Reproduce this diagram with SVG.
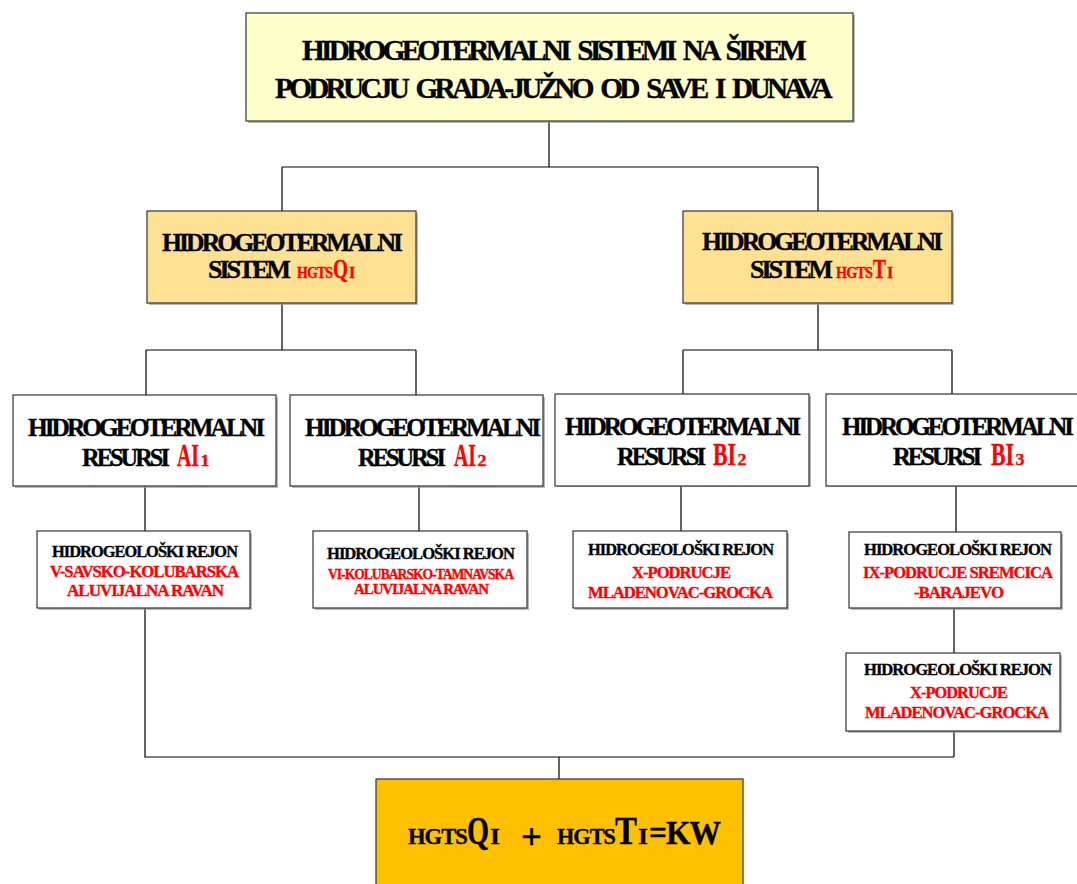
<svg xmlns="http://www.w3.org/2000/svg" width="1077" height="884" viewBox="0 0 1077 884">
<style>
.t{font-family:"Liberation Serif","Times New Roman","DejaVu Serif",serif;font-weight:bold;stroke-width:0.35;}
.k{fill:#000;stroke:#000}
.r{fill:#ff0000;stroke:#ff0000}
.l1{letter-spacing:-1px}
.l3{letter-spacing:-3px}
.lt{letter-spacing:-3.8px;word-spacing:6px}
.box{stroke:#333;stroke-width:1.2}
.sh{fill:#9a9a9a;opacity:0.7}
.w{fill:#fff}
.c{stroke:#000;stroke-width:1.2;fill:none}
</style>
<rect width="1077" height="884" fill="#fff"/>
<g id="connectors">
<path class="c" d="M549 121V167M282 167H818M282 167V212M818 167V212"/>
<path class="c" d="M282 303V350M146 350H416M146 350V395M416 350V395"/>
<path class="c" d="M818 303V350M683 350H952M683 350V395M952 350V395"/>
<path class="c" d="M145 486V531M419 486V531M681 486V531M956 486V532M954 608V653"/>
<path class="c" d="M145 608V757H954M954 731V757M559 757V779"/>
</g>
<g id="top">
<rect class="sh" x="248" y="15" width="607" height="108"/>
<rect class="box" x="246" y="13" width="607" height="108" fill="#ffffcc"/>
<text class="t k lt" font-size="30" x="302" y="60" textLength="501" lengthAdjust="spacingAndGlyphs">HIDROGEOTERMALNI SISTEMI NA ŠIREM</text>
<text class="t k lt" font-size="30" x="275" y="98" textLength="554" lengthAdjust="spacingAndGlyphs">PODRUCJU GRADA-JUŽNO OD SAVE I DUNAVA</text>
</g>
<g id="sistemQ">
<rect class="sh" x="149" y="213" width="269" height="92"/>
<rect class="box" x="147" y="211" width="269" height="92" fill="#ffe194"/>
<text class="t k l3" font-size="26" x="162" y="251" textLength="238" lengthAdjust="spacingAndGlyphs">HIDROGEOTERMALNI</text>
<text class="t k l3" font-size="26" x="208" y="278" textLength="80" lengthAdjust="spacingAndGlyphs">SISTEM</text>
<text class="t r l1" font-size="16" x="297" y="278" textLength="35" lengthAdjust="spacingAndGlyphs">HGTS</text>
<text class="t r" font-size="28" x="333" y="278" textLength="15" lengthAdjust="spacingAndGlyphs">Q</text>
<text class="t r" font-size="16" x="349" y="278">I</text>
</g>
<g id="sistemT">
<rect class="sh" x="685" y="213" width="269" height="92"/>
<rect class="box" x="683" y="211" width="269" height="92" fill="#ffe194"/>
<text class="t k l3" font-size="26" x="702" y="250" textLength="238" lengthAdjust="spacingAndGlyphs">HIDROGEOTERMALNI</text>
<text class="t k l3" font-size="26" x="750" y="278" textLength="80" lengthAdjust="spacingAndGlyphs">SISTEM</text>
<text class="t r l1" font-size="16" x="836" y="278" textLength="36" lengthAdjust="spacingAndGlyphs">HGTS</text>
<text class="t r" font-size="28" x="873" y="278" textLength="13" lengthAdjust="spacingAndGlyphs">T</text>
<text class="t r" font-size="16" x="887" y="278">I</text>
</g>
<g id="resursiAI1">
<rect class="sh" x="15" y="397" width="263" height="91"/>
<rect class="box w" x="13" y="395" width="263" height="91"/>
<text class="t k l3" font-size="25" x="28" y="436" textLength="234" lengthAdjust="spacingAndGlyphs">HIDROGEOTERMALNI</text>
<text class="t k l3" font-size="25" x="82" y="466" textLength="85" lengthAdjust="spacingAndGlyphs">RESURSI</text>
<text class="t r" font-size="31" x="177" y="466" textLength="22" lengthAdjust="spacingAndGlyphs">AI</text>
<text class="t r" font-size="17" x="200.5" y="466" textLength="9" lengthAdjust="spacingAndGlyphs">1</text>
</g>
<g id="resursiAI2">
<rect class="sh" x="292" y="397" width="253" height="91"/>
<rect class="box w" x="290" y="395" width="253" height="91"/>
<text class="t k l3" font-size="25" x="305" y="436" textLength="233" lengthAdjust="spacingAndGlyphs">HIDROGEOTERMALNI</text>
<text class="t k l3" font-size="25" x="358" y="466" textLength="85" lengthAdjust="spacingAndGlyphs">RESURSI</text>
<text class="t r" font-size="31" x="454" y="466" textLength="22" lengthAdjust="spacingAndGlyphs">AI</text>
<text class="t r" font-size="17" x="477.5" y="466" textLength="9" lengthAdjust="spacingAndGlyphs">2</text>
</g>
<g id="resursiBI2">
<rect class="sh" x="557" y="396" width="254" height="91"/>
<rect class="box w" x="555" y="394" width="254" height="92"/>
<text class="t k l3" font-size="25" x="565" y="435" textLength="233" lengthAdjust="spacingAndGlyphs">HIDROGEOTERMALNI</text>
<text class="t k l3" font-size="25" x="617" y="465" textLength="86" lengthAdjust="spacingAndGlyphs">RESURSI</text>
<text class="t r" font-size="31" x="713" y="465" textLength="23" lengthAdjust="spacingAndGlyphs">BI</text>
<text class="t r" font-size="17" x="737.5" y="465" textLength="9" lengthAdjust="spacingAndGlyphs">2</text>
</g>
<g id="resursiBI3">
<rect class="sh" x="828" y="396" width="260" height="91"/>
<rect class="box w" x="826" y="394" width="260" height="92"/>
<text class="t k l3" font-size="25" x="842" y="435" textLength="229" lengthAdjust="spacingAndGlyphs">HIDROGEOTERMALNI</text>
<text class="t k l3" font-size="25" x="893" y="465" textLength="86" lengthAdjust="spacingAndGlyphs">RESURSI</text>
<text class="t r" font-size="31" x="991" y="465" textLength="23" lengthAdjust="spacingAndGlyphs">BI</text>
<text class="t r" font-size="17" x="1015.5" y="465" textLength="9" lengthAdjust="spacingAndGlyphs">3</text>
</g>
<g id="rejonV">
<rect class="sh" x="39" y="533" width="213" height="77"/>
<rect class="box w" x="37" y="531" width="213" height="77"/>
<text class="t k l1" font-size="17" x="52" y="557" textLength="185" lengthAdjust="spacingAndGlyphs">HIDROGEOLOŠKI REJON</text>
<text class="t r l1" font-size="17" x="50" y="577" textLength="188" lengthAdjust="spacingAndGlyphs">V-SAVSKO-KOLUBARSKA</text>
<text class="t r l1" font-size="17" x="67" y="596" textLength="156" lengthAdjust="spacingAndGlyphs">ALUVIJALNA RAVAN</text>
</g>
<g id="rejonVI">
<rect class="sh" x="315" y="533" width="214" height="77"/>
<rect class="box w" x="313" y="531" width="214" height="77"/>
<text class="t k l1" font-size="17" x="327" y="559" textLength="187" lengthAdjust="spacingAndGlyphs">HIDROGEOLOŠKI REJON</text>
<text class="t r l1" font-size="14" x="328" y="579" textLength="185" lengthAdjust="spacingAndGlyphs">VI-KOLUBARSKO-TAMNAVSKA</text>
<text class="t r l1" font-size="14" x="354" y="594" textLength="134" lengthAdjust="spacingAndGlyphs">ALUVIJALNA RAVAN</text>
</g>
<g id="rejonX1">
<rect class="sh" x="575" y="533" width="214" height="77"/>
<rect class="box w" x="573" y="531" width="214" height="77"/>
<text class="t k l1" font-size="17" x="588" y="555" textLength="185" lengthAdjust="spacingAndGlyphs">HIDROGEOLOŠKI REJON</text>
<text class="t r l1" font-size="17" x="632" y="578" textLength="98" lengthAdjust="spacingAndGlyphs">X-PODRUCJE</text>
<text class="t r l1" font-size="17" x="588" y="598" textLength="184" lengthAdjust="spacingAndGlyphs">MLADENOVAC-GROCKA</text>
</g>
<g id="rejonIX">
<rect class="sh" x="851" y="534" width="212" height="76"/>
<rect class="box w" x="849" y="532" width="212" height="76"/>
<text class="t k l1" font-size="17" x="864" y="555" textLength="187" lengthAdjust="spacingAndGlyphs">HIDROGEOLOŠKI REJON</text>
<text class="t r l1" font-size="17" x="863" y="578" textLength="189" lengthAdjust="spacingAndGlyphs">IX-PODRUCJE SREMCICA</text>
<text class="t r l1" font-size="17" x="914" y="598" textLength="89" lengthAdjust="spacingAndGlyphs">-BARAJEVO</text>
</g>
<g id="rejonX2">
<rect class="sh" x="848" y="655" width="214" height="78"/>
<rect class="box w" x="846" y="653" width="214" height="78"/>
<text class="t k l1" font-size="17" x="864" y="675" textLength="187" lengthAdjust="spacingAndGlyphs">HIDROGEOLOŠKI REJON</text>
<text class="t r l1" font-size="17" x="910" y="698" textLength="97" lengthAdjust="spacingAndGlyphs">X-PODRUCJE</text>
<text class="t r l1" font-size="17" x="865" y="718" textLength="183" lengthAdjust="spacingAndGlyphs">MLADENOVAC-GROCKA</text>
</g>
<g id="result">
<rect class="box" x="376" y="779" width="367" height="120" fill="#ffc000" stroke="#7f6000"/>
<text class="t k l1" font-size="24" x="408" y="844" textLength="59" lengthAdjust="spacingAndGlyphs">HGTS</text>
<text class="t k" font-size="40" x="467" y="844" textLength="22" lengthAdjust="spacingAndGlyphs">Q</text>
<text class="t k" font-size="24" x="490" y="844" textLength="10" lengthAdjust="spacingAndGlyphs">I</text>
<text class="t k" font-size="36" x="521" y="849" textLength="21" lengthAdjust="spacingAndGlyphs">+</text>
<text class="t k l1" font-size="24" x="557" y="844" textLength="58" lengthAdjust="spacingAndGlyphs">HGTS</text>
<text class="t k" font-size="40" x="615" y="844" textLength="22" lengthAdjust="spacingAndGlyphs">T</text>
<text class="t k" font-size="24" x="638" y="844" textLength="10" lengthAdjust="spacingAndGlyphs">I</text>
<text class="t k l1" font-size="33" x="649" y="844" textLength="71" lengthAdjust="spacingAndGlyphs">=KW</text>
</g>
</svg>
